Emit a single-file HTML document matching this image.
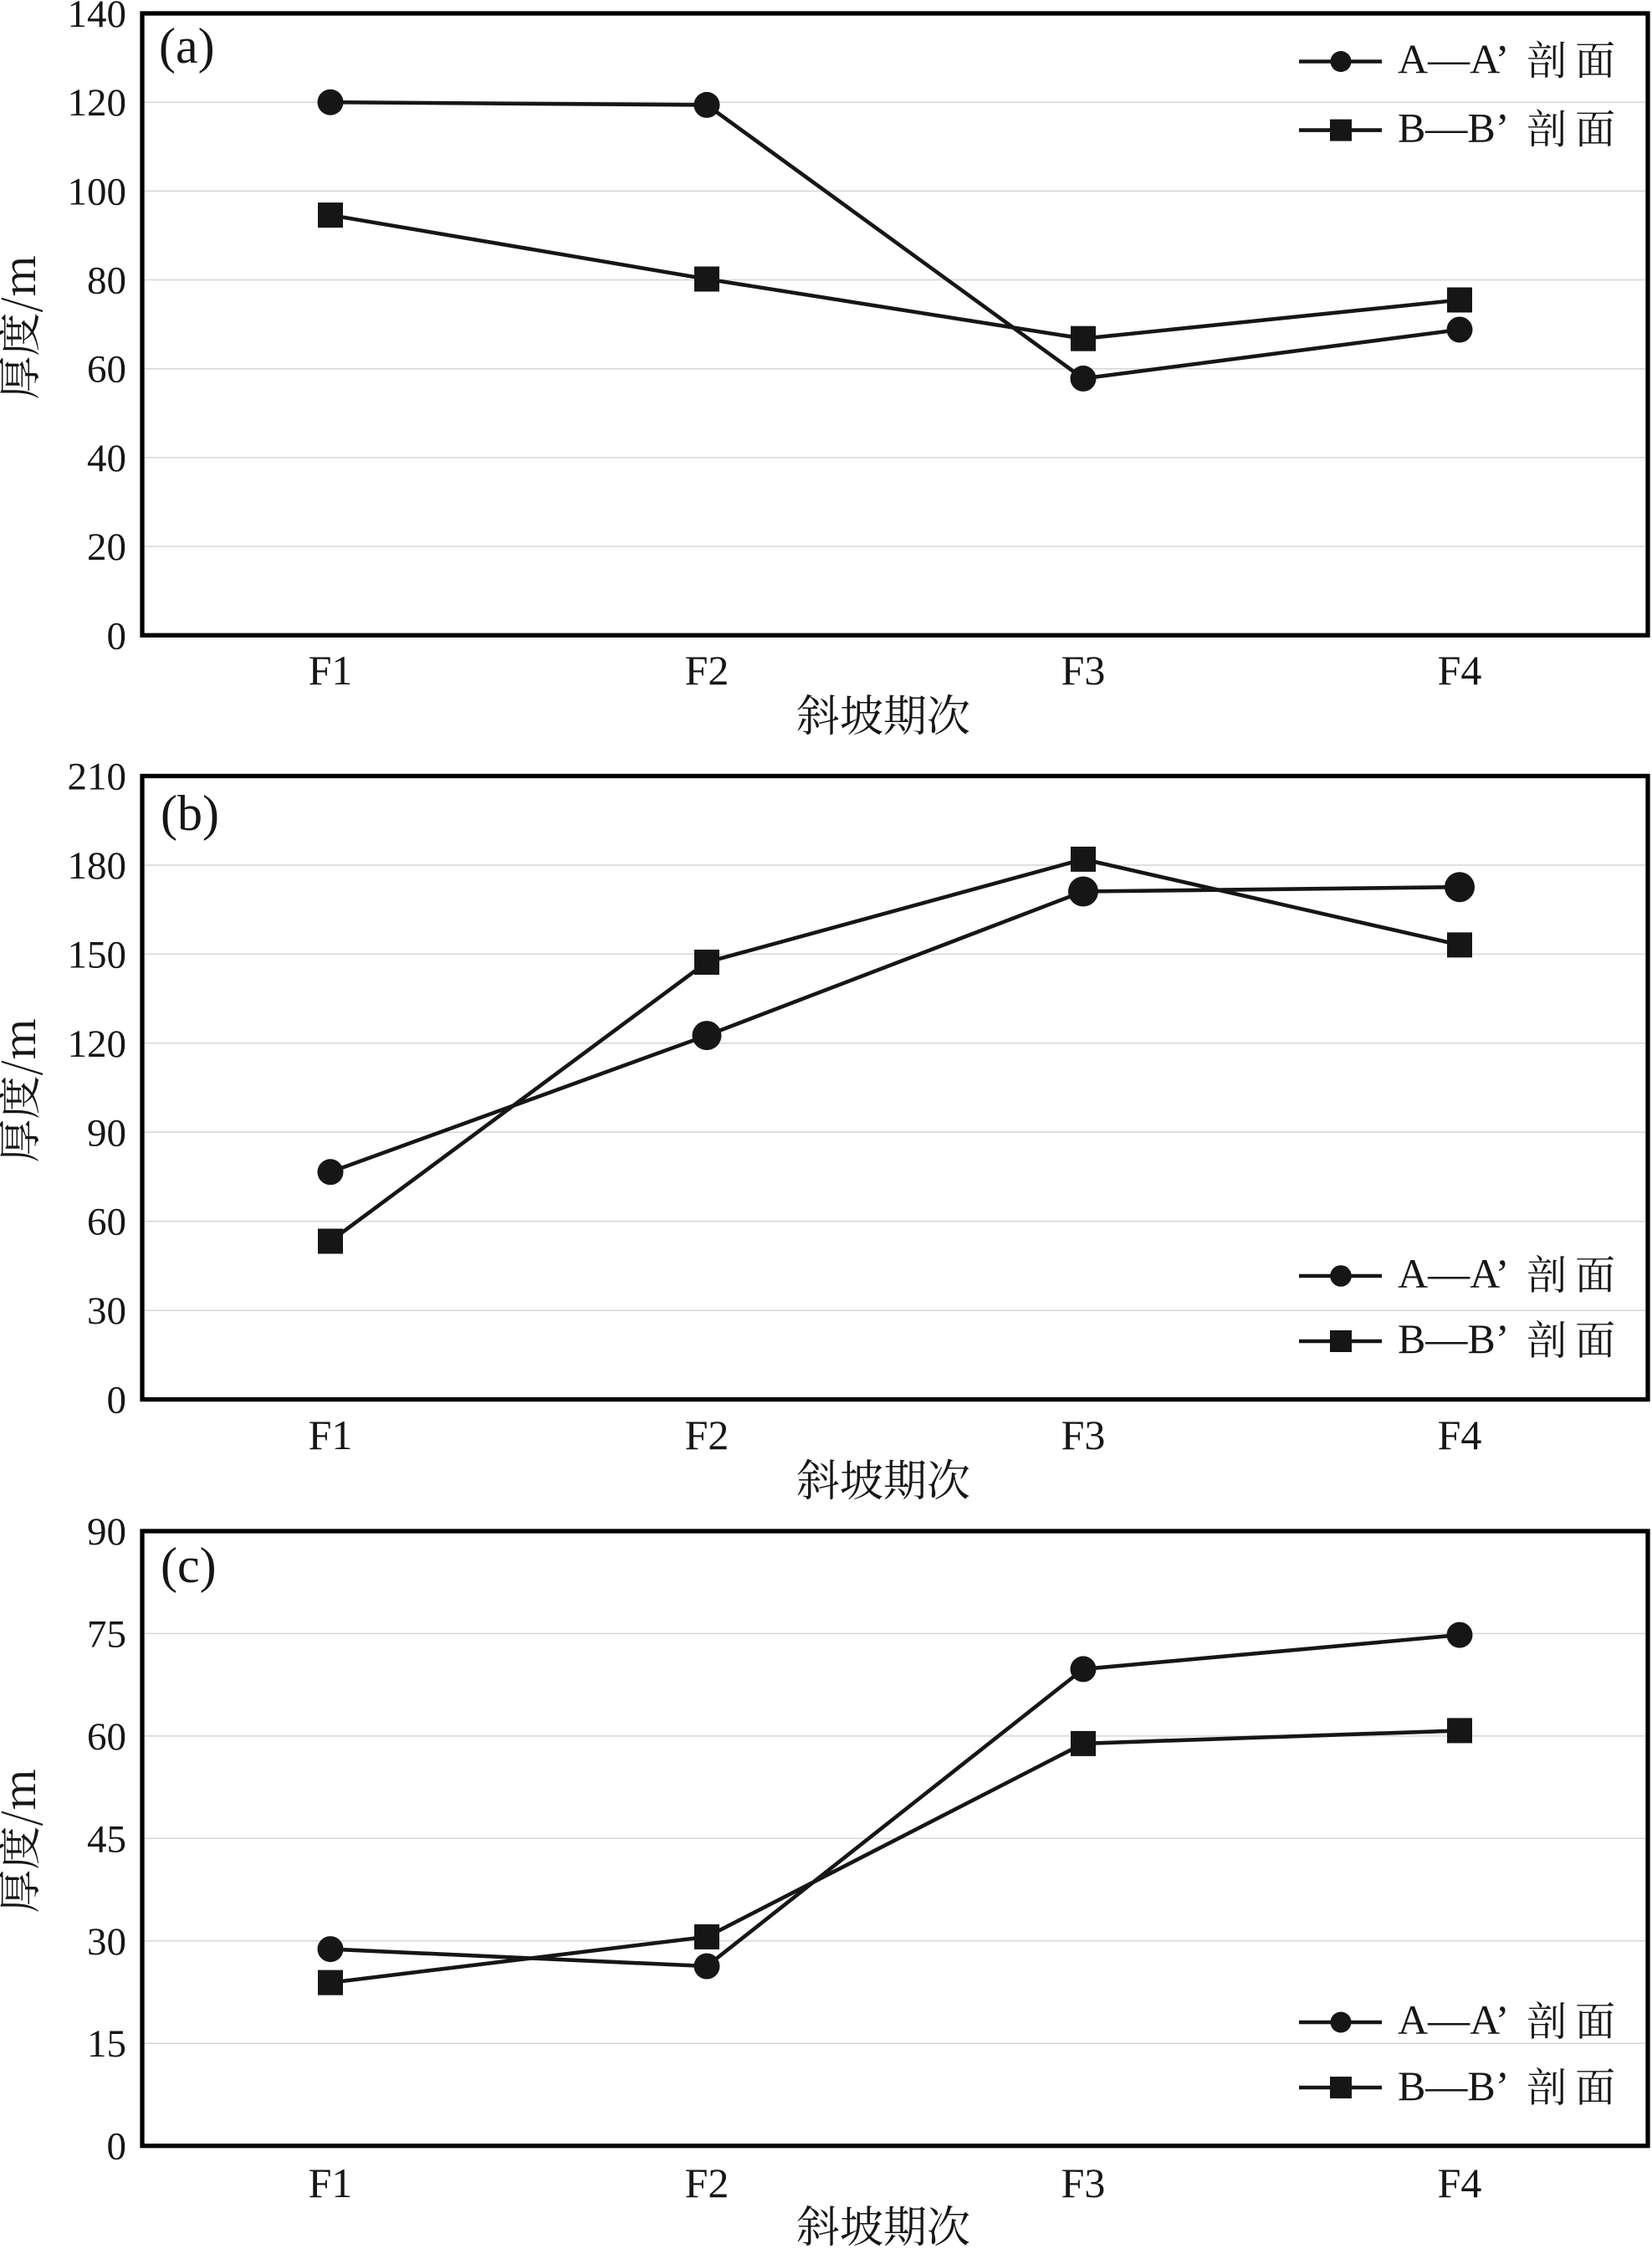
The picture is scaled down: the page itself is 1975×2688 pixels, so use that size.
<!DOCTYPE html>
<html>
<head>
<meta charset="utf-8">
<style>
html,body{margin:0;padding:0;background:#fff;}
svg{display:block;}
.t{font-family:"Liberation Serif","Noto Serif CJK SC",serif;fill:#161616;}
.c{font-family:"Noto Serif CJK SC","Liberation Serif",serif;fill:#161616;}
</style>
</head>
<body>
<svg width="1975" height="2688" viewBox="0 0 1975 2688" xmlns="http://www.w3.org/2000/svg">
<rect width="1975" height="2688" fill="#fff"/>

<!-- ================= PANEL A ================= -->
<g stroke="#d6d6d6" stroke-width="1.5">
<line x1="170" y1="653.1" x2="1970" y2="653.1"/>
<line x1="170" y1="546.9" x2="1970" y2="546.9"/>
<line x1="170" y1="440.7" x2="1970" y2="440.7"/>
<line x1="170" y1="334.5" x2="1970" y2="334.5"/>
<line x1="170" y1="228.4" x2="1970" y2="228.4"/>
<line x1="170" y1="122.2" x2="1970" y2="122.2"/>
</g>
<g class="t" font-size="47" text-anchor="end">
<text x="151" y="775.3">0</text>
<text x="151" y="669.1">20</text>
<text x="151" y="562.9">40</text>
<text x="151" y="456.7">60</text>
<text x="151" y="350.5">80</text>
<text x="151" y="244.4">100</text>
<text x="151" y="138.2">120</text>
<text x="151" y="32">140</text>
</g>
<g class="t" font-size="50" text-anchor="middle">
<text x="395" y="818">F1</text>
<text x="845" y="818">F2</text>
<text x="1295" y="818">F3</text>
<text x="1745" y="818">F4</text>
</g>
<text class="c" font-size="52" x="1056" y="874" text-anchor="middle">斜坡期次</text>
<text class="c" font-size="52" transform="translate(42,391) rotate(-90)" text-anchor="middle">厚度/m</text>
<text class="t" font-size="60" x="190" y="75">(a)</text>
<!-- series -->
<g stroke="#161616" stroke-width="4.6" fill="none" stroke-linejoin="round">
<polyline points="395,122.2 845,125.4 1295,452.4 1745,394.0"/>
<polyline points="395,257.1 845,333.5 1295,404.7 1745,358.5"/>
</g>
<g fill="#161616">
<circle cx="395" cy="122.2" r="15.5"/>
<circle cx="845" cy="125.4" r="15.5"/>
<circle cx="1295" cy="452.4" r="15.5"/>
<circle cx="1745" cy="394.0" r="15.5"/>
<rect x="380" y="242.1" width="30" height="30"/>
<rect x="830" y="318.5" width="30" height="30"/>
<rect x="1280" y="389.7" width="30" height="30"/>
<rect x="1730" y="343.5" width="30" height="30"/>
</g>
<!-- legend a -->
<g stroke="#161616" stroke-width="4.6">
<line x1="1553" y1="73.5" x2="1652" y2="73.5"/>
<line x1="1553" y1="155.6" x2="1652" y2="155.6"/>
</g>
<g fill="#161616">
<circle cx="1603" cy="73.5" r="12.5"/>
<rect x="1590" y="142.6" width="26" height="26"/>
</g>
<text class="t" font-size="50" x="1671" y="87.5">A—A’</text>
<text class="c" font-size="48" x="1825" y="89">剖</text>
<text class="c" font-size="48" x="1883" y="89">面</text>
<text class="t" font-size="50" x="1671" y="169.6">B—B’</text>
<text class="c" font-size="48" x="1825" y="171">剖</text>
<text class="c" font-size="48" x="1883" y="171">面</text>
<rect x="170" y="16" width="1800" height="743.3" fill="none" stroke="#000" stroke-width="5.3"/>

<!-- ================= PANEL B ================= -->
<g stroke="#d6d6d6" stroke-width="1.5">
<line x1="170" y1="1566.2" x2="1970" y2="1566.2"/>
<line x1="170" y1="1459.7" x2="1970" y2="1459.7"/>
<line x1="170" y1="1353.3" x2="1970" y2="1353.3"/>
<line x1="170" y1="1246.8" x2="1970" y2="1246.8"/>
<line x1="170" y1="1140.4" x2="1970" y2="1140.4"/>
<line x1="170" y1="1034.0" x2="1970" y2="1034.0"/>
</g>
<g class="t" font-size="47" text-anchor="end">
<text x="151" y="1688.6">0</text>
<text x="151" y="1582.2">30</text>
<text x="151" y="1475.7">60</text>
<text x="151" y="1369.3">90</text>
<text x="151" y="1262.8">120</text>
<text x="151" y="1156.4">150</text>
<text x="151" y="1050.0">180</text>
<text x="151" y="943.5">210</text>
</g>
<g class="t" font-size="50" text-anchor="middle">
<text x="395" y="1732">F1</text>
<text x="845" y="1732">F2</text>
<text x="1295" y="1732">F3</text>
<text x="1745" y="1732">F4</text>
</g>
<text class="c" font-size="52" x="1056" y="1788" text-anchor="middle">斜坡期次</text>
<text class="c" font-size="52" transform="translate(42,1303) rotate(-90)" text-anchor="middle">厚度/m</text>
<text class="t" font-size="60" x="192" y="992">(b)</text>
<g stroke="#161616" stroke-width="4.6" fill="none" stroke-linejoin="round">
<polyline points="395,1400.8 845,1237.6 1295,1065.5 1745,1060.2"/>
<polyline points="395,1483.5 845,1150.0 1295,1026.9 1745,1129.4"/>
</g>
<g fill="#161616">
<circle cx="395" cy="1400.8" r="15.5"/>
<circle cx="845" cy="1237.6" r="17.5"/>
<circle cx="1295" cy="1065.5" r="18"/>
<circle cx="1745" cy="1060.2" r="18"/>
<rect x="380" y="1468.5" width="30" height="30"/>
<rect x="830" y="1135.0" width="30" height="30"/>
<rect x="1280" y="1011.9" width="30" height="30"/>
<rect x="1730" y="1114.4" width="30" height="30"/>
</g>
<g stroke="#161616" stroke-width="4.6">
<line x1="1553" y1="1525" x2="1652" y2="1525"/>
<line x1="1553" y1="1603" x2="1652" y2="1603"/>
</g>
<g fill="#161616">
<circle cx="1603" cy="1525" r="12.8"/>
<rect x="1590" y="1590" width="26" height="26"/>
</g>
<text class="t" font-size="50" x="1671" y="1539">A—A’</text>
<text class="c" font-size="48" x="1825" y="1540.5">剖</text>
<text class="c" font-size="48" x="1883" y="1540.5">面</text>
<text class="t" font-size="50" x="1671" y="1617">B—B’</text>
<text class="c" font-size="48" x="1825" y="1618.5">剖</text>
<text class="c" font-size="48" x="1883" y="1618.5">面</text>
<rect x="170" y="927.5" width="1800" height="745.1" fill="none" stroke="#000" stroke-width="5.3"/>

<!-- ================= PANEL C ================= -->
<g stroke="#d6d6d6" stroke-width="1.5">
<line x1="170" y1="2442.2" x2="1970" y2="2442.2"/>
<line x1="170" y1="2319.8" x2="1970" y2="2319.8"/>
<line x1="170" y1="2197.3" x2="1970" y2="2197.3"/>
<line x1="170" y1="2074.9" x2="1970" y2="2074.9"/>
<line x1="170" y1="1952.4" x2="1970" y2="1952.4"/>
</g>
<g class="t" font-size="47" text-anchor="end">
<text x="151" y="2580.7">0</text>
<text x="151" y="2458.2">15</text>
<text x="151" y="2335.8">30</text>
<text x="151" y="2213.3">45</text>
<text x="151" y="2090.9">60</text>
<text x="151" y="1968.4">75</text>
<text x="151" y="1846">90</text>
</g>
<g class="t" font-size="50" text-anchor="middle">
<text x="395" y="2626">F1</text>
<text x="845" y="2626">F2</text>
<text x="1295" y="2626">F3</text>
<text x="1745" y="2626">F4</text>
</g>
<text class="c" font-size="52" x="1056" y="2680" text-anchor="middle">斜坡期次</text>
<text class="c" font-size="52" transform="translate(42,2200) rotate(-90)" text-anchor="middle">厚度/m</text>
<text class="t" font-size="60" x="192" y="1891">(c)</text>
<g stroke="#161616" stroke-width="4.6" fill="none" stroke-linejoin="round">
<polyline points="395,2329.6 845,2350.0 1295,1994.9 1745,1954.1"/>
<polyline points="395,2369.6 845,2314.9 1295,2083.9 1745,2068.4"/>
</g>
<g fill="#161616">
<circle cx="395" cy="2329.6" r="15.5"/>
<circle cx="845" cy="2350.0" r="15.5"/>
<circle cx="1295" cy="1994.9" r="15.5"/>
<circle cx="1745" cy="1954.1" r="15.5"/>
<rect x="380" y="2354.6" width="30" height="30"/>
<rect x="830" y="2299.9" width="30" height="30"/>
<rect x="1280" y="2068.9" width="30" height="30"/>
<rect x="1730" y="2053.4" width="30" height="30"/>
</g>
<g stroke="#161616" stroke-width="4.6">
<line x1="1553" y1="2417" x2="1652" y2="2417"/>
<line x1="1553" y1="2495" x2="1652" y2="2495"/>
</g>
<g fill="#161616">
<circle cx="1603" cy="2417" r="12.5"/>
<rect x="1590" y="2482" width="26" height="26"/>
</g>
<text class="t" font-size="50" x="1671" y="2431">A—A’</text>
<text class="c" font-size="48" x="1825" y="2432.5">剖</text>
<text class="c" font-size="48" x="1883" y="2432.5">面</text>
<text class="t" font-size="50" x="1671" y="2510">B—B’</text>
<text class="c" font-size="48" x="1825" y="2511.5">剖</text>
<text class="c" font-size="48" x="1883" y="2511.5">面</text>
<rect x="170" y="1830" width="1800" height="734.7" fill="none" stroke="#000" stroke-width="5.3"/>
</svg>
</body>
</html>
